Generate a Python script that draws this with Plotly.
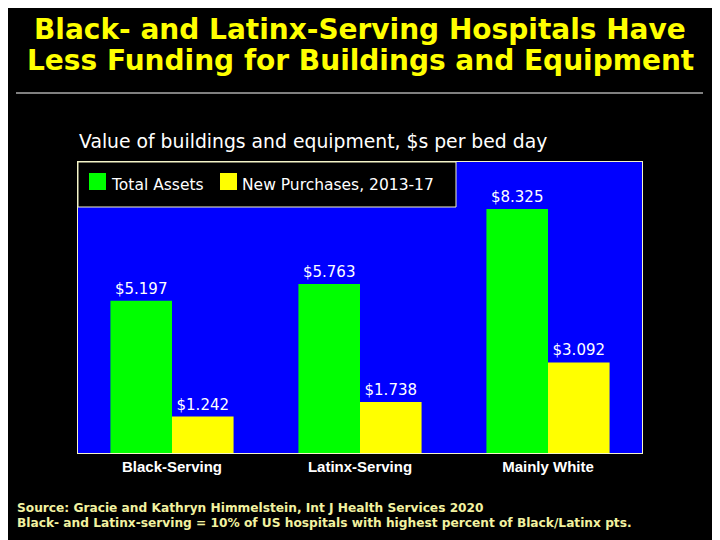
import plotly.graph_objects as go

# data
categories = ["Black-Serving", "Latinx-Serving", "Mainly White"]
total_assets = [5.197, 5.763, 8.325]
new_purchases = [1.242, 1.738, 3.092]
series_names = ["Total Assets", "New Purchases, 2013-17"]

GREEN = "#00ff00"
YELLOW = "#ffff00"
BLUE = "#0000ff"
EDGE = "#f4f4c8"
ARIAL = "Liberation Sans, Arial, sans-serif"
WIDE = "DejaVu Sans, Verdana, sans-serif"

# plot area sits at screen x 78..642, y 162..453 (page has an 8px body margin)
PL, PT, PW, PH = 78, 162, 564, 291


def px(x):
    return (x - PL) / PW


def py(y):
    return 1 - (y - PT) / PH


fig = go.Figure()
for name, vals, col in [(series_names[0], total_assets, GREEN),
                        (series_names[1], new_purchases, YELLOW)]:
    fig.add_trace(go.Bar(
        x=categories, y=vals, name=name,
        marker=dict(color=col, line=dict(width=0)),
        text=["$%.3f" % v for v in vals],
        textposition="outside",
        textfont=dict(color="white", size=15, family=WIDE),
        cliponaxis=False,
        showlegend=False,
    ))

fig.update_layout(
    width=712, height=532,
    margin=dict(l=70, r=78, t=154, b=87),
    paper_bgcolor="black",
    plot_bgcolor=BLUE,
    barmode="group",
    bargap=0.345,
    bargroupgap=0,
    font=dict(family=ARIAL, color="white"),
    xaxis=dict(showgrid=False, zeroline=False, ticks="",
               tickfont=dict(size=15, color="white", family=ARIAL, weight="bold"),
               showline=True, linecolor=EDGE, mirror=True, linewidth=1),
    yaxis=dict(range=[0, 9.93], showgrid=False, zeroline=False,
               showticklabels=False, ticks="",
               showline=True, linecolor=EDGE, mirror=True, linewidth=1),
)

# title
for txt, y in [("Black- and Latinx-Serving Hospitals Have", 29),
               ("Less Funding for Buildings and Equipment", 61)]:
    fig.add_annotation(
        text="<b>%s</b>" % txt, xref="paper", yref="paper",
        x=px(360), y=py(y), xanchor="center", yanchor="middle",
        showarrow=False, font=dict(size=28, color=YELLOW, family=WIDE),
    )
fig.add_shape(type="line", xref="paper", yref="paper",
              x0=px(16), x1=px(703), y0=py(93), y1=py(93),
              line=dict(color="white", width=1))

# subtitle
fig.add_annotation(
    text="Value of buildings and equipment, $s per bed day",
    xref="paper", yref="paper", x=px(77), y=py(141), xanchor="left", yanchor="middle",
    showarrow=False, font=dict(size=18.8, color="white", family=WIDE),
)

# legend box
fig.add_shape(type="rect", xref="paper", yref="paper",
              x0=px(78), x1=px(456), y0=py(207), y1=py(162),
              fillcolor="black", line=dict(color=EDGE, width=1))
for name, col, sx in zip(series_names, [GREEN, YELLOW], [89, 220]):
    fig.add_shape(type="rect", xref="paper", yref="paper",
                  x0=px(sx), x1=px(sx + 17), y0=py(190), y1=py(173),
                  fillcolor=col, line=dict(width=0))
    fig.add_annotation(text=name, xref="paper", yref="paper",
                       x=px(sx + 20), y=py(185),
                       xanchor="left", yanchor="middle", showarrow=False,
                       font=dict(size=15.5, color="white", family=WIDE))

# footer
footer = ["Source: Gracie and Kathryn Himmelstein, Int J Health Services 2020",
          "Black- and Latinx-serving = 10% of US hospitals with highest percent of Black/Latinx pts."]
for txt, y in zip(footer, [508, 523]):
    fig.add_annotation(
        text="<b>%s</b>" % txt, xref="paper", yref="paper",
        x=px(15), y=py(y), xanchor="left", yanchor="middle",
        showarrow=False, font=dict(size=12.2, color="#f2f2a0", family=WIDE),
    )

fig.write_html("out.html")
